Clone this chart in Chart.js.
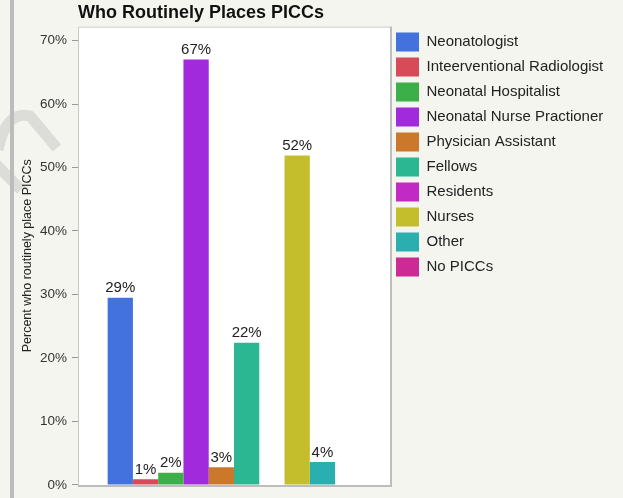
<!DOCTYPE html>
<html>
<head>
<meta charset="utf-8">
<script src="https://cdn.jsdelivr.net/npm/chart.js@4/dist/chart.umd.min.js"></script>
<style>
  html, body { margin: 0; padding: 0; background: #f5f5f0; }
  #wrap { width: 623px; height: 498px; }
</style>
</head>
<body>
<div id="wrap"><canvas id="piccChart" width="623" height="498"></canvas></div>
<script>
// who places PICCs, percent of respondents
const groups = ['Neonatologist', 'Inteerventional Radiologist', 'Neonatal Hospitalist',
  'Neonatal Nurse Practioner', 'Physician Assistant', 'Fellows', 'Residents',
  'Nurses', 'Other', 'No PICCs'];
const percents = [29.5, 0.9, 1.9, 67, 2.8, 22.4, 0, 51.9, 3.6, 0];
const valueLabels = ['29%', '1%', '2%', '67%', '3%', '22%', '', '52%', '4%', ''];
const colors = ['#4372de', '#d64b57', '#3daf48', '#a12bdc', '#cc782a',
  '#2ab791', '#c22ac6', '#c4bd2c', '#2aafb0', '#cc2b95'];
const yTicks = [0, 10, 20, 30, 40, 50, 60, 70];

const FONT = '"Liberation Sans", Arial, Helvetica, sans-serif';
const LEGEND_W = 215;

const backdrop = {
  id: 'backdrop',
  afterLayout(chart) {
    // layout caps side boxes at a quarter of the width, so widen the legend by hand
    const lg = chart.legend;
    lg.width = LEGEND_W;
    lg.right = lg.left + LEGEND_W;
  },
  beforeDraw(chart) {
    const {ctx, chartArea: a} = chart;
    ctx.save();
    // faint watermark stroke on the left edge
    ctx.strokeStyle = '#dcdcd8';
    ctx.lineWidth = 11;
    ctx.beginPath();
    ctx.moveTo(-2, 150);
    ctx.quadraticCurveTo(6, 110, 30, 116);
    ctx.lineTo(57, 148);
    ctx.moveTo(-4, 164);
    ctx.lineTo(21, 190);
    ctx.stroke();
    // grey page rule
    ctx.fillStyle = '#bcbcbc';
    ctx.fillRect(10, 0, 4, chart.height);
    // white plot area
    ctx.fillStyle = '#ffffff';
    ctx.fillRect(a.left, a.top, a.right - a.left, a.bottom - a.top);
    ctx.restore();
  },
  afterDatasetsDraw(chart) {
    const {ctx, chartArea: a} = chart;
    ctx.save();
    ctx.strokeStyle = '#c8c8c8';
    ctx.lineWidth = 1;
    ctx.beginPath();
    ctx.moveTo(a.left + 0.5, a.bottom);
    ctx.lineTo(a.left + 0.5, a.top + 0.5);
    ctx.lineTo(a.right, a.top + 0.5);
    ctx.stroke();
    ctx.strokeStyle = '#bdbdbd';
    ctx.lineWidth = 2;
    ctx.beginPath();
    ctx.moveTo(a.right + 1, a.top);
    ctx.lineTo(a.right + 1, a.bottom + 1);
    ctx.lineTo(a.left, a.bottom + 1);
    ctx.stroke();
    // value labels over bars
    ctx.font = '15px ' + FONT;
    ctx.fillStyle = '#222';
    ctx.textAlign = 'center';
    ctx.textBaseline = 'bottom';
    chart.data.datasets.forEach((ds, i) => {
      const bar = chart.getDatasetMeta(i).data[0];
      if (!valueLabels[i]) return;
      ctx.fillText(valueLabels[i], bar.x, bar.y - 2);
    });
    ctx.restore();
  }
};

new Chart(document.getElementById('piccChart'), {
  type: 'bar',
  data: {
    labels: [''],
    datasets: groups.map((g, i) => ({
      label: g,
      data: [percents[i]],
      backgroundColor: colors[i],
      borderWidth: 0
    }))
  },
  options: {
    responsive: false,
    animation: false,
    categoryPercentage: 0.81,
    barPercentage: 1,
    layout: { padding: { left: 15, right: 108, top: 0, bottom: 7 } },
    scales: {
      x: { display: false },
      y: {
        min: 0,
        max: 72.2,
        afterFit: s => { s.width = 63; },
        afterBuildTicks: s => { s.ticks = yTicks.map(v => ({ value: v })); },
        ticks: {
          padding: 5,
          color: '#333',
          font: { family: FONT, size: 13.5 },
          callback: v => v + '%'
        },
        grid: { drawOnChartArea: false, tickLength: 6, color: '#999' },
        border: { display: false },
        title: {
          display: true,
          text: 'Percent who routinely place PICCs',
          color: '#222',
          font: { family: FONT, size: 12.5 },
          padding: { top: 5, bottom: 6 }
        }
      }
    },
    plugins: {
      title: {
        display: true,
        text: 'Who Routinely Places PICCs',
        align: 'start',
        fullSize: false,
        color: '#111',
        font: { family: FONT, size: 18, weight: 'bold' },
        padding: { top: 2, bottom: 3 }
      },
      legend: {
        position: 'right',
        align: 'start',
        fullSize: false,
        labels: {
          boxWidth: 23,
          boxHeight: 19,
          padding: 6,
          color: '#222',
          font: { family: FONT, size: 15 }
        }
      },
      tooltip: { enabled: false }
    }
  },
  plugins: [backdrop]
});
</script>
</body>
</html>
